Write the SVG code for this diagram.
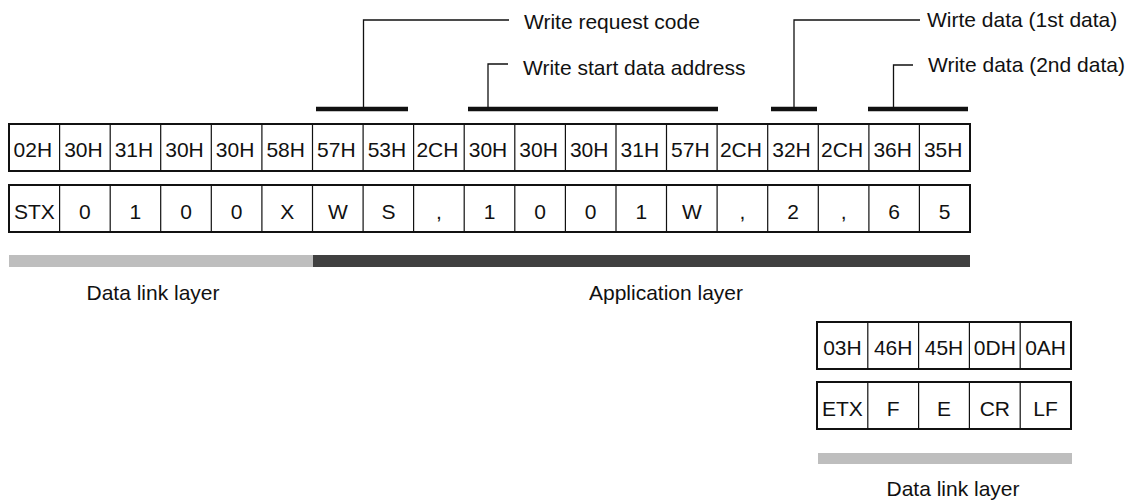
<svg xmlns="http://www.w3.org/2000/svg" width="1139" height="501" viewBox="0 0 1139 501">
  <style>
    text { font-family: "Liberation Sans", Arial, sans-serif; font-size: 21px; fill: #111; }
    .c { text-anchor: middle; }
    .frame { fill: #fff; stroke: #111; stroke-width: 2; }
    .div { stroke: #111; stroke-width: 1.2; }
    .lead { fill: none; stroke: #111; stroke-width: 1.3; }
    .bar { stroke: #111; stroke-width: 4.5; }
  </style>

  <!-- leader lines and brackets -->
  <g id="connectors">
    <line class="bar" x1="316" y1="109" x2="408" y2="109"/>
    <polyline class="lead" points="363.5,109 363.5,20 509,20"/>
    <line class="bar" x1="468" y1="109" x2="718" y2="109"/>
    <polyline class="lead" points="488,109 488,64 508,64"/>
    <line class="bar" x1="771" y1="109" x2="817" y2="109"/>
    <polyline class="lead" points="794,109 794,20 920,20"/>
    <line class="bar" x1="868" y1="109" x2="968" y2="109"/>
    <polyline class="lead" points="893.5,109 893.5,65 913,65"/>
  </g>

  <g id="labels">
    <text x="524" y="29">Write request code</text>
    <text x="523" y="75">Write start data address</text>
    <text x="927" y="27">Wirte data (1st data)</text>
    <text x="928" y="72">Write data (2nd data)</text>
  </g>

  <!-- main message: hex codes -->
  <g id="hex-row">
    <rect class="frame" x="9" y="124" width="961" height="47"/>
    <path class="div" d="M59.6,124V171M110.2,124V171M160.7,124V171M211.3,124V171M261.9,124V171M312.5,124V171M363.1,124V171M413.6,124V171M464.2,124V171M514.8,124V171M565.4,124V171M616,124V171M666.5,124V171M717.1,124V171M767.7,124V171M818.3,124V171M868.9,124V171M919.4,124V171"/>
    <g transform="translate(-1.5,0)">
      <text class="c" x="34.3" y="157">02H</text>
      <text class="c" x="84.9" y="157">30H</text>
      <text class="c" x="135.4" y="157">31H</text>
      <text class="c" x="186" y="157">30H</text>
      <text class="c" x="236.6" y="157">30H</text>
      <text class="c" x="287.2" y="157">58H</text>
      <text class="c" x="337.8" y="157">57H</text>
      <text class="c" x="388.4" y="157">53H</text>
      <text class="c" x="438.9" y="157">2CH</text>
      <text class="c" x="489.5" y="157">30H</text>
      <text class="c" x="540.1" y="157">30H</text>
      <text class="c" x="590.7" y="157">30H</text>
      <text class="c" x="641.3" y="157">31H</text>
      <text class="c" x="691.8" y="157">57H</text>
      <text class="c" x="742.4" y="157">2CH</text>
      <text class="c" x="793" y="157">32H</text>
      <text class="c" x="843.6" y="157">2CH</text>
      <text class="c" x="894.2" y="157">36H</text>
      <text class="c" x="944.7" y="157">35H</text>
    </g>
  </g>

  <!-- main message: characters -->
  <g id="char-row">
    <rect class="frame" x="9" y="185" width="961" height="47"/>
    <path class="div" d="M59.6,185V232M110.2,185V232M160.7,185V232M211.3,185V232M261.9,185V232M312.5,185V232M363.1,185V232M413.6,185V232M464.2,185V232M514.8,185V232M565.4,185V232M616,185V232M666.5,185V232M717.1,185V232M767.7,185V232M818.3,185V232M868.9,185V232M919.4,185V232"/>
    <text class="c" x="34.3" y="219">STX</text>
    <text class="c" x="84.9" y="219">0</text>
    <text class="c" x="135.4" y="219">1</text>
    <text class="c" x="186" y="219">0</text>
    <text class="c" x="236.6" y="219">0</text>
    <text class="c" x="287.2" y="219">X</text>
    <text class="c" x="337.8" y="219">W</text>
    <text class="c" x="388.4" y="219">S</text>
    <text class="c" x="438.9" y="219">,</text>
    <text class="c" x="489.5" y="219">1</text>
    <text class="c" x="540.1" y="219">0</text>
    <text class="c" x="590.7" y="219">0</text>
    <text class="c" x="641.3" y="219">1</text>
    <text class="c" x="691.8" y="219">W</text>
    <text class="c" x="742.4" y="219">,</text>
    <text class="c" x="793" y="219">2</text>
    <text class="c" x="843.6" y="219">,</text>
    <text class="c" x="894.2" y="219">6</text>
    <text class="c" x="944.7" y="219">5</text>
  </g>

  <!-- layer bands -->
  <g id="layers">
    <rect x="9" y="255" width="304" height="12" fill="#bebebe"/>
    <rect x="313" y="255" width="657" height="12" fill="#404040"/>
    <text class="c" x="153" y="300">Data link layer</text>
    <text class="c" x="666" y="300">Application layer</text>
  </g>

  <!-- trailer block -->
  <g id="trailer-hex">
    <rect class="frame" x="817" y="322" width="254" height="47"/>
    <path class="div" d="M867.8,322V369M918.6,322V369M969.4,322V369M1020.2,322V369"/>
    <text class="c" x="842.4" y="355">03H</text>
    <text class="c" x="893.2" y="355">46H</text>
    <text class="c" x="944" y="355">45H</text>
    <text class="c" x="994.8" y="355">0DH</text>
    <text class="c" x="1045.6" y="355">0AH</text>
  </g>
  <g id="trailer-char">
    <rect class="frame" x="817" y="382" width="254" height="47"/>
    <path class="div" d="M867.8,382V429M918.6,382V429M969.4,382V429M1020.2,382V429"/>
    <text class="c" x="842.4" y="416">ETX</text>
    <text class="c" x="893.2" y="416">F</text>
    <text class="c" x="944" y="416">E</text>
    <text class="c" x="994.8" y="416">CR</text>
    <text class="c" x="1045.6" y="416">LF</text>
  </g>
  <g id="trailer-layer">
    <rect x="818" y="453" width="254" height="11" fill="#bebebe"/>
    <text class="c" x="953" y="496">Data link layer</text>
  </g>
</svg>
